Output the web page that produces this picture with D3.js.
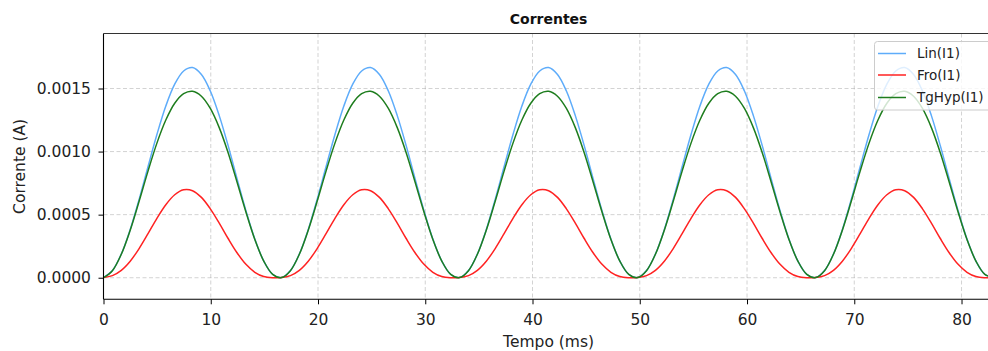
<!DOCTYPE html>
<html>
<head>
<meta charset="utf-8">
<script src="https://cdn.jsdelivr.net/npm/d3@7"></script>
<style>
  html, body { margin: 0; padding: 0; background: #fff; overflow: hidden; }
  svg { display: block; font-family: "DejaVu Sans", sans-serif; }
</style>
</head>
<body>
<svg id="chart" width="988" height="351"></svg>
<script>
// ---- data (time in ms, current in A) ----
const tempo = [0, 0.83, 1.66, 2.49, 3.32, 4.15, 4.98, 5.81, 6.64, 7.47, 8.3, 9.13, 9.96, 10.79, 11.62, 12.45, 13.28, 14.11, 14.94, 15.77,
  16.6, 17.43, 18.26, 19.09, 19.92, 20.75, 21.58, 22.41, 23.24, 24.07, 24.9, 25.73, 26.56, 27.39, 28.22, 29.05, 29.88, 30.71, 31.54, 32.37,
  33.2, 34.03, 34.86, 35.69, 36.52, 37.35, 38.18, 39.01, 39.84, 40.67, 41.5, 42.33, 43.16, 43.99, 44.82, 45.65, 46.48, 47.31, 48.14, 48.97,
  49.8, 50.63, 51.46, 52.29, 53.12, 53.95, 54.78, 55.61, 56.44, 57.27, 58.1, 58.93, 59.76, 60.59, 61.42, 62.25, 63.08, 63.91, 64.74, 65.57,
  66.4, 67.23, 68.06, 68.89, 69.72, 70.55, 71.38, 72.21, 73.04, 73.87, 74.7, 75.53, 76.36, 77.19, 78.02, 78.85, 79.68, 80.51, 81.34, 82.17,
  83.0];

const linI1 = [
  0.000001, 0.0000566, 0.000188, 0.000382, 0.000621, 0.000880, 0.001135, 0.001361, 0.001534, 0.001639, 0.001666, 0.001611, 0.001480, 0.001285, 0.001047, 0.000786, 0.000532, 0.000307, 0.000133, 0.0000274,
  0.000001, 0.0000566, 0.000188, 0.000382, 0.000621, 0.000880, 0.001135, 0.001361, 0.001534, 0.001639, 0.001666, 0.001611, 0.001480, 0.001285, 0.001047, 0.000786, 0.000532, 0.000307, 0.000133, 0.0000274,
  0.000001, 0.0000566, 0.000188, 0.000382, 0.000621, 0.000880, 0.001135, 0.001361, 0.001534, 0.001639, 0.001666, 0.001611, 0.001480, 0.001285, 0.001047, 0.000786, 0.000532, 0.000307, 0.000133, 0.0000274,
  0.000001, 0.0000566, 0.000188, 0.000382, 0.000621, 0.000880, 0.001135, 0.001361, 0.001534, 0.001639, 0.001666, 0.001611, 0.001480, 0.001285, 0.001047, 0.000786, 0.000532, 0.000307, 0.000133, 0.0000274,
  0.000001, 0.0000566, 0.000188, 0.000382, 0.000621, 0.000880, 0.001135, 0.001361, 0.001534, 0.001639, 0.001666, 0.001611, 0.001480, 0.001285, 0.001047, 0.000786, 0.000532, 0.000307, 0.000133, 0.0000274,
  0.000001];

const froI1 = [
  0.0000014, 0.0000169, 0.0000587, 0.000131, 0.000231, 0.000349, 0.000471, 0.000579, 0.000658, 0.000697, 0.000690, 0.000637, 0.000546, 0.000433, 0.000311, 0.000198, 0.000106, 0.000043, 0.0000094, 0.0000002,
  0.0000014, 0.0000169, 0.0000587, 0.000131, 0.000231, 0.000349, 0.000471, 0.000579, 0.000658, 0.000697, 0.000690, 0.000637, 0.000546, 0.000433, 0.000311, 0.000198, 0.000106, 0.000043, 0.0000094, 0.0000002,
  0.0000014, 0.0000169, 0.0000587, 0.000131, 0.000231, 0.000349, 0.000471, 0.000579, 0.000658, 0.000697, 0.000690, 0.000637, 0.000546, 0.000433, 0.000311, 0.000198, 0.000106, 0.000043, 0.0000094, 0.0000002,
  0.0000014, 0.0000169, 0.0000587, 0.000131, 0.000231, 0.000349, 0.000471, 0.000579, 0.000658, 0.000697, 0.000690, 0.000637, 0.000546, 0.000433, 0.000311, 0.000198, 0.000106, 0.000043, 0.0000094, 0.0000002,
  0.0000014, 0.0000169, 0.0000587, 0.000131, 0.000231, 0.000349, 0.000471, 0.000579, 0.000658, 0.000697, 0.000690, 0.000637, 0.000546, 0.000433, 0.000311, 0.000198, 0.000106, 0.000043, 0.0000094, 0.0000002,
  0.0000014];

const tgHypI1 = [
  0.000001, 0.0000561, 0.000186, 0.000377, 0.000606, 0.000845, 0.001067, 0.001250, 0.001383, 0.001459, 0.001478, 0.001439, 0.001342, 0.001190, 0.000991, 0.000759, 0.000521, 0.000303, 0.000132, 0.0000272,
  0.000001, 0.0000561, 0.000186, 0.000377, 0.000606, 0.000845, 0.001067, 0.001250, 0.001383, 0.001459, 0.001478, 0.001439, 0.001342, 0.001190, 0.000991, 0.000759, 0.000521, 0.000303, 0.000132, 0.0000272,
  0.000001, 0.0000561, 0.000186, 0.000377, 0.000606, 0.000845, 0.001067, 0.001250, 0.001383, 0.001459, 0.001478, 0.001439, 0.001342, 0.001190, 0.000991, 0.000759, 0.000521, 0.000303, 0.000132, 0.0000272,
  0.000001, 0.0000561, 0.000186, 0.000377, 0.000606, 0.000845, 0.001067, 0.001250, 0.001383, 0.001459, 0.001478, 0.001439, 0.001342, 0.001190, 0.000991, 0.000759, 0.000521, 0.000303, 0.000132, 0.0000272,
  0.000001, 0.0000561, 0.000186, 0.000377, 0.000606, 0.000845, 0.001067, 0.001250, 0.001383, 0.001459, 0.001478, 0.001439, 0.001342, 0.001190, 0.000991, 0.000759, 0.000521, 0.000303, 0.000132, 0.0000272,
  0.000001];

const seriesNames = ["Lin(I1)", "Fro(I1)", "TgHyp(I1)"];
const xTicks = [0, 10, 20, 30, 40, 50, 60, 70, 80];
const yTicks = [0, 0.0005, 0.0010, 0.0015];
const yTickLabels = ["0.0000", "0.0005", "0.0010", "0.0015"];

// ---- layout ----
const colors = ["#5eacfa", "#ff2222", "#1e7d1e"];
const seriesValues = [linI1, froI1, tgHypI1];

const svg = d3.select("#chart");
const pLeft = 103.5, pRight = 993.7, pTop = 33.5, pBottom = 299.3;

const x = d3.scaleLinear().domain([0, 83]).range([pLeft, pRight]);
const y = d3.scaleLinear().domain([-0.000171, 0.001936]).range([pBottom, pTop]);

// grid
const grid = svg.append("g").attr("stroke", "#b0b0b0").attr("stroke-opacity", 0.7)
  .attr("stroke-width", 0.8).attr("stroke-dasharray", "4,2.5");
grid.selectAll("line.gx").data(xTicks).join("line")
  .attr("x1", d => x(d)).attr("x2", d => x(d)).attr("y1", pTop).attr("y2", pBottom);
grid.selectAll("line.gy").data(yTicks).join("line")
  .attr("y1", d => y(d)).attr("y2", d => y(d)).attr("x1", pLeft).attr("x2", pRight);

// lines
svg.append("clipPath").attr("id", "clip").append("rect")
  .attr("x", pLeft).attr("y", pTop).attr("width", pRight - pLeft).attr("height", pBottom - pTop);

const line = d3.line().x((d, i) => x(tempo[i])).y(d => y(d)).curve(d3.curveCatmullRom.alpha(0.5));
const lines = svg.append("g").attr("clip-path", "url(#clip)");
seriesValues.forEach((vals, k) => {
  lines.append("path").attr("d", line(vals)).attr("fill", "none")
    .attr("stroke", colors[k]).attr("stroke-width", 1.5);
});

// axes
const xAxis = d3.axisBottom(x).tickValues(xTicks).tickSize(5).tickPadding(10).tickFormat(d3.format("d"));
const yAxis = d3.axisLeft(y).tickValues(yTicks).tickSize(5).tickPadding(7.5).tickFormat((d, i) => yTickLabels[i]);

const gx = svg.append("g").attr("transform", `translate(0,${pBottom})`).call(xAxis);
const gy = svg.append("g").attr("transform", `translate(${pLeft},0)`).call(yAxis);
[gx, gy].forEach(g => {
  g.select(".domain").attr("stroke", "#000").attr("stroke-width", 1.1);
  g.selectAll(".tick line").attr("stroke", "#000").attr("stroke-width", 1);
  g.selectAll(".tick text").attr("fill", "#222").style("font-size", "15.5px")
    .style("font-family", "DejaVu Sans, sans-serif");
});
gx.select(".domain").attr("d", `M${pLeft},0H${pRight}`);
gy.select(".domain").attr("d", `M0,${pBottom}V${pTop}`);
gx.selectAll(".tick text").attr("dy", "0.71em");

// top / right spines
svg.append("line").attr("x1", pLeft).attr("x2", pRight).attr("y1", pTop).attr("y2", pTop)
  .attr("stroke", "#333").attr("stroke-width", 1.1);
svg.append("line").attr("x1", pRight).attr("x2", pRight).attr("y1", pTop).attr("y2", pBottom)
  .attr("stroke", "#333").attr("stroke-width", 1.1);

// labels
svg.append("text").attr("x", (pLeft + pRight) / 2).attr("y", 24).attr("text-anchor", "middle")
  .style("font-size", "14px").style("font-weight", "bold").attr("fill", "#111").text("Correntes");
svg.append("text").attr("x", (pLeft + pRight) / 2).attr("y", 347).attr("text-anchor", "middle")
  .style("font-size", "15.5px").attr("fill", "#222").text("Tempo (ms)");
svg.append("text").attr("transform", `translate(24.5,${(pTop + pBottom) / 2}) rotate(-90)`)
  .attr("text-anchor", "middle").style("font-size", "15.5px").attr("fill", "#222").text("Corrente (A)");

// legend
const lg = svg.append("g");
lg.append("rect").attr("x", 874.5).attr("y", 41.5).attr("width", 130).attr("height", 68.5)
  .attr("rx", 3).attr("fill", "#fff").attr("fill-opacity", 0.8)
  .attr("stroke", "#cccccc").attr("stroke-width", 1);
const legendY = [53.5, 75, 97.5];
seriesNames.forEach((name, k) => {
  lg.append("line").attr("x1", 878).attr("x2", 906).attr("y1", legendY[k]).attr("y2", legendY[k])
    .attr("stroke", colors[k]).attr("stroke-width", 1.5);
  lg.append("text").attr("x", 917).attr("y", legendY[k]).attr("dy", "0.36em")
    .style("font-size", "13.5px").attr("fill", "#222").text(name);
});
</script>
</body>
</html>
